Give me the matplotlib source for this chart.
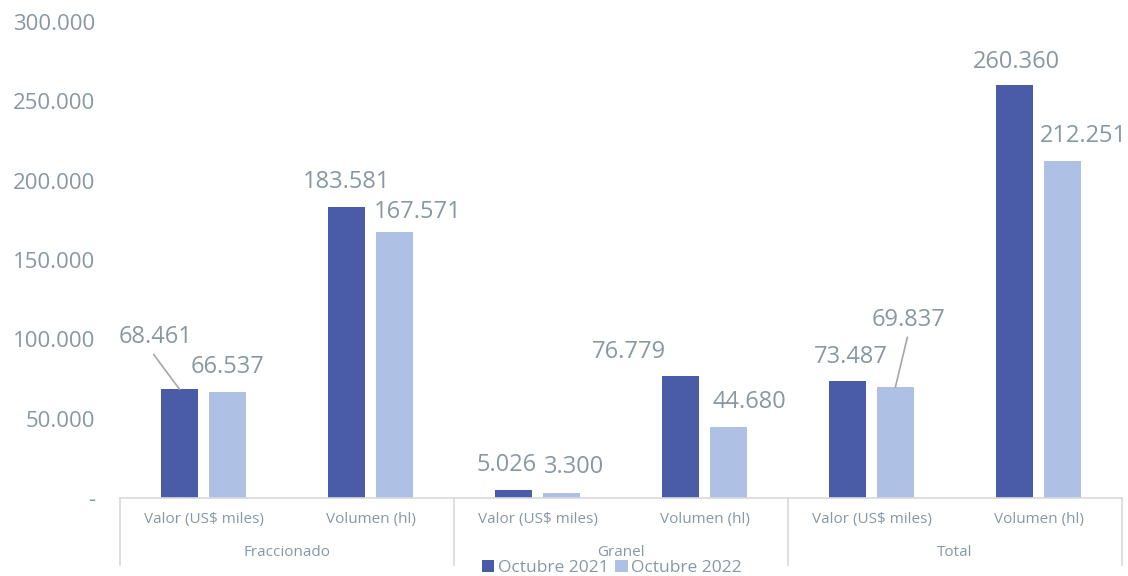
import matplotlib
matplotlib.use("Agg")
import matplotlib.pyplot as plt
import numpy as np

plt.rcParams['font.family'] = ['Open Sans', 'DejaVu Sans']

groups = ["Fraccionado", "Granel", "Total"]
subcats = ["Valor (US$ miles)", "Volumen (hl)"] * 3
series_names = ["Octubre 2021", "Octubre 2022"]
oct2021 = [68461, 183581, 5026, 76779, 73487, 260360]
oct2022 = [66537, 167571, 3300, 44680, 69837, 212251]
yticks = [0, 50000, 100000, 150000, 200000, 250000, 300000]
ytick_labels = ["-", "50.000", "100.000", "150.000", "200.000", "250.000", "300.000"]

c1 = "#4a5ba8"
c2 = "#aec0e4"
tcol = "#8798a2"
lcol = "#d9d9d9"

def fmt(v):
    return f"{v:,}".replace(",", ".")

fig = plt.figure(figsize=(11.28, 5.76), dpi=100)
ax = fig.add_axes([120/1128, 78/576, 1002/1128, 476/576])

x = np.arange(len(subcats))
w = 0.222
off = 0.143
b1 = ax.bar(x - off, oct2021, w, color=c1, label=series_names[0], zorder=2)
b2 = ax.bar(x + off, oct2022, w, color=c2, label=series_names[1], zorder=2)

ax.set_xlim(-0.5, len(subcats) - 0.5)
ax.set_ylim(0, 300000)
ax.set_yticks(yticks)
ax.set_yticklabels(ytick_labels)
ax.tick_params(axis='y', length=0, pad=18, labelsize=16, labelcolor=tcol)
ax.set_xticks([])
for s in ["left", "right", "top"]:
    ax.spines[s].set_visible(False)
ax.spines["bottom"].set_color(lcol)
ax.spines["bottom"].set_linewidth(1.2)

# label offsets in pixels (dx, dy) relative to bar top center
offs1 = [(-24, 52), (0, 25), (-7, 25), (-52, 24), (3, 24), (2, 23)]
offs2 = [(0, 25), (23, 20), (13, 26), (21, 25), (13, 67), (21, 25)]
leader1 = [True, False, False, False, False, False]
leader2 = [False, False, False, False, True, False]

for bars, vals, offs, lead in [(b1, oct2021, offs1, leader1), (b2, oct2022, offs2, leader2)]:
    for b, v, (dx, dy), ld in zip(bars, vals, offs, lead):
        xc = b.get_x() + b.get_width() / 2
        ax.annotate(fmt(v), (xc, v), xytext=(dx, dy), textcoords="offset pixels",
                    ha="center", va="center", fontsize=17, color=tcol, zorder=3)
        if ld:
            ax.annotate("", (xc, v), xytext=(dx - 2 if dx < 0 else dx - 1, dy - 17),
                        textcoords="offset pixels",
                        arrowprops=dict(arrowstyle="-", color="#a6a6a6", lw=1.2,
                                        shrinkA=0, shrinkB=0))

trans = ax.get_xaxis_transform()
depth = 67 / 476
for xs in [-0.5, 1.5, 3.5, 5.5]:
    ax.plot([xs, xs], [0, -depth], color=lcol, lw=1.2, transform=trans, clip_on=False)
for i, s in enumerate(subcats):
    ax.text(i, -22 / 476, s, transform=trans, ha="center", va="center",
            fontsize=11, color=tcol)
for g, name in enumerate(groups):
    ax.text(2 * g + 0.5, -55 / 476, name, transform=trans, ha="center", va="center",
            fontsize=11, color=tcol)

leg = fig.legend(handles=[b1, b2], labels=series_names, loc="center",
                 bbox_to_anchor=(612 / 1128, 1 - 568 / 576), ncol=2, frameon=False,
                 fontsize=12.5, handlelength=0.7, handleheight=0.7, handletextpad=0.2,
                 columnspacing=0.4, borderpad=0, labelcolor=tcol)

fig.savefig("out.png", dpi=100)
